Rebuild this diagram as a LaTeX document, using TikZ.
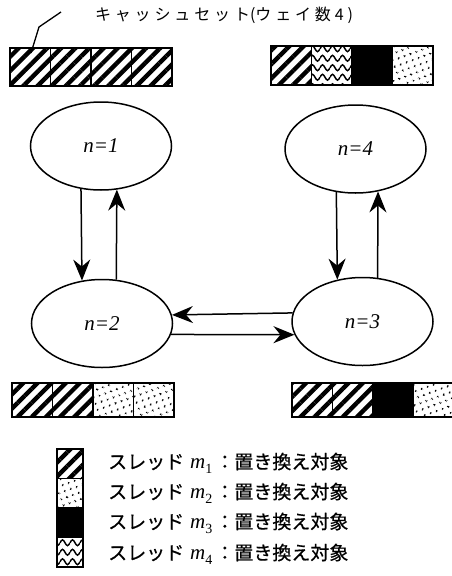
\RequirePackage{fix-cm}
\documentclass[tikz,border=0pt]{standalone}
\usepackage{fontspec}
\newfontfamily\jp{Noto Sans CJK JP}
\newfontfamily\jpb[FakeBold=0.6]{Noto Sans CJK JP}
\newfontfamily\tms{Liberation Serif}
\usetikzlibrary{patterns.meta,arrows.meta,shapes.geometric}

\tikzdeclarepattern{
  name=mywaves,
  type=uncolored,
  bottom left={(-.1pt,-.1pt)},
  top right={(10.1pt,9.6pt)},
  tile size={(10pt,9.5pt)},
  code={
    \draw[line width=1.5pt] (0pt,4.75pt) sin (2.5pt,7.6pt) cos (5pt,4.75pt) sin (7.5pt,1.9pt) cos (10pt,4.75pt);
  }
}

\tikzset{
  cell/.style={draw, line width=1.4pt, inner sep=0pt, outer sep=0pt, anchor=north west,
    minimum width=40.5pt},
  tallcell/.style={cell, minimum height=38pt},
  lowcell/.style={cell, minimum height=34pt},
  swatch/.style={draw, line width=1.4pt, inner sep=0pt, outer sep=0pt, anchor=north west,
    minimum width=26pt, minimum height=29.5pt},
  diag/.style={pattern={Lines[angle=45,distance=10pt,line width=4.4pt]}},
  dotp/.style={pattern={Dots[angle=20,distance=6.5pt,radius=1.3pt]}},
  wavep/.style={pattern=mywaves},
  blk/.style={fill=black},
  state/.style={ellipse, draw, line width=1.5pt, minimum width=141pt, minimum height=88pt,
    inner sep=0pt, font=\tms\itshape\fontsize{21}{23}\selectfont},
  arr/.style={line width=1.5pt, -{Stealth[length=21pt,width=17pt,inset=7pt]}},
  legendtext/.style={anchor=west, inner sep=0pt, font=\fontsize{19}{22}\selectfont},
  leader/.style={line width=1.3pt},
}

\newcommand{\mlab}[1]{{\tms\itshape\fontsize{21}{22}\selectfont m}\raisebox{-4.5pt}{\tms\fontsize{14}{14}\selectfont #1}}

\begin{document}
\begin{tikzpicture}[x=1pt,y=-1pt]
\useasboundingbox[fill=white] (0,0) rectangle (451,576);

% title
\node[inner sep=0pt, font=\jp\fontsize{16}{18}\selectfont] (title) at (224,15)
  {\makebox[258pt][s]{キ\hfill ャ\hfill ッ\hfill シ\hfill ュ\hfill セ\hfill ッ\hfill ト(ウ\hfill ェ\hfill イ\hfill 数\hfill 4\hfill )}};

% top-left cache set
\node[tallcell,diag] (tl1) at (10,48) {};
\node[tallcell,diag] (tl2) at (tl1.north east) {};
\node[tallcell,diag] (tl3) at (tl2.north east) {};
\node[tallcell,diag] (tl4) at (tl3.north east) {};

% leader line
\coordinate (ls) at (61,12);
\coordinate (lm) at (39,27);
\coordinate (le) at (31,53);
\draw[leader] (ls) -- (lm) -- (le);

% top-right cache set
\node[tallcell,diag,minimum height=39pt] (tr1) at (271,46) {};
\node[tallcell,wavep,minimum height=39pt] (tr2) at (tr1.north east) {};
\node[tallcell,blk,minimum height=39pt] (tr3) at (tr2.north east) {};
\node[tallcell,dotp,minimum height=39pt] (tr4) at (tr3.north east) {};

% states
\node[state] (n1) at (101,146) {n=1};
\node[state] (n4) at (355.5,149) {n=4};
\node[state] (n2) at (102,323.5) {n=2};
\node[state] (n3) at (362.5,321.5) {n=3};

% arrows
\draw[arr] (n1.245.9) -- (n2.115.4);
\draw[arr] (n2.72.0) -- (n1.-70.8);
\draw[arr] (n4.246.5) -- (n3.121.9);
\draw[arr] (n3.71.4) -- (n4.-62.8);
\draw[arr] (n3.173.8) -- (n2.7.9);
\draw[arr] (n2.-9.6) -- (n3.191.4);

% bottom-left cache set
\node[lowcell,diag] (bl1) at (12,383) {};
\node[lowcell,diag] (bl2) at (bl1.north east) {};
\node[lowcell,dotp] (bl3) at (bl2.north east) {};
\node[lowcell,dotp] (bl4) at (bl3.north east) {};

% bottom-right cache set
\node[lowcell,diag] (br1) at (292,383) {};
\node[lowcell,diag] (br2) at (br1.north east) {};
\node[lowcell,blk] (br3) at (br2.north east) {};
\node[lowcell,dotp] (br4) at (br3.north east) {};

% legend
\node[swatch,diag] (sw1) at (57,449) {};
\node[swatch,dotp] (sw2) at (sw1.south west) {};
\node[swatch,blk] (sw3) at (sw2.south west) {};
\node[swatch,wavep] (sw4) at (sw3.south west) {};

\node[legendtext] (lg1) at (108,463) {{\jpb スレッド}\hspace{6pt}\mlab{1}\hspace{3pt}{\jpb ：置き換え対象}};
\node[legendtext] (lg2) at (108,493) {{\jpb スレッド}\hspace{6pt}\mlab{2}\hspace{3pt}{\jpb ：置き換え対象}};
\node[legendtext] (lg3) at (108,523) {{\jpb スレッド}\hspace{6pt}\mlab{3}\hspace{3pt}{\jpb ：置き換え対象}};
\node[legendtext] (lg4) at (108,554) {{\jpb スレッド}\hspace{6pt}\mlab{4}\hspace{3pt}{\jpb ：置き換え対象}};
\end{tikzpicture}
\end{document}
